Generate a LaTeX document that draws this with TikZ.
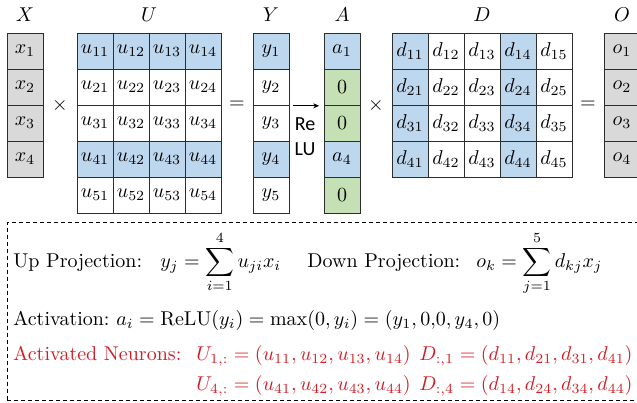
\documentclass[tikz,border=0pt]{standalone}
\usepackage{fontspec}
\newfontfamily\carlito{Carlito}
\usetikzlibrary{arrows.meta}
\definecolor{cblue}{RGB}{189,215,238}
\definecolor{cgreen}{RGB}{197,224,180}
\definecolor{cgray}{RGB}{217,217,217}
\definecolor{cred}{RGB}{208,28,36}
\definecolor{cline}{RGB}{45,45,45}
\begin{document}
\begin{tikzpicture}[x=1pt,y=-1pt,
  big/.style={scale=2, font=\fontsize{10}{12}\selectfont, inner sep=0pt},
  cell/.style={big, draw=cline, line width=0.8pt, minimum width=18pt, minimum height=18pt, font=\fontsize{10.2}{12}\selectfont},
  txt/.style={big, anchor=base west},
  frame/.style={draw=black, dash pattern=on 4pt off 3pt, line width=0.9pt, inner sep=0pt}]
\useasboundingbox (0,0) rectangle (637,402);
% column X
\foreach \r in {1,...,4} \node[cell, fill=cgray] (x\r) at (25,15+36*\r) {$x_{\r}$};
% matrix U
\foreach \r/\f in {1/cblue,2/white,3/white,4/cblue,5/white}
  \foreach \c in {1,...,4}
    \node[cell, fill=\f] (u\r\c) at (59+36*\c,15+36*\r) {$u_{\r\c}$};
% column Y
\foreach \r/\f in {1/cblue,2/white,3/white,4/cblue,5/white}
  \node[cell, fill=\f] (y\r) at (271,15+36*\r) {$y_{\r}$};
% column A
\foreach \r/\f/\t in {1/cblue/a_1,2/cgreen/0,3/cgreen/0,4/cblue/a_4,5/cgreen/0}
  \node[cell, fill=\f] (a\r) at (342,15+36*\r) {$\t$};
% matrix D
\foreach \c/\f in {1/cblue,2/white,3/white,4/cblue,5/white}
  \foreach \r in {1,...,4}
    \node[cell, fill=\f] (d\r\c) at (374+36*\c,15+36*\r) {$d_{\r\c}$};
% column O
\foreach \r in {1,...,4} \node[cell, fill=cgray] (o\r) at (622,15+36*\r) {$o_{\r}$};
% headers
\node[big] (hX) at (25,15) {$X$};
\node[big] (hU) at (149,15) {$U$};
\node[big] (hY) at (271,15) {$Y$};
\node[big] (hA) at (342,15) {$A$};
\node[big] (hD) at (482,15) {$D$};
\node[big] (hO) at (622,15) {$O$};
% operators
\node[big] (m1) at (60,105) {$\times$};
\node[big] (e1) at (237,105) {$=$};
\node[big] (m2) at (376,105) {$\times$};
\node[big] (e2) at (588,105) {$=$};
% ReLU arrow
\draw[-{Stealth[length=6pt,width=5pt]}, line width=0.8pt] ([xshift=3pt]y2.south east) -- ([xshift=-4pt]a2.south west);
\node[font=\carlito\fontsize{20}{25}\selectfont, align=center, inner sep=0pt] (relu) at (305,137) {Re\\LU};
% formula box
\node[frame, minimum width=643pt, minimum height=178.5pt] (box) at (328.5,311.25) {};
\node[txt] (up) at (13,267) {Up Projection:};
\node[txt] (upm) at (160,267) {$\displaystyle y_j = \sum_{i=1}^{4} u_{ji}x_i$};
\node[txt] (down) at (307,267) {Down Projection:};
\node[txt] (downm) at (476,267) {$\displaystyle o_k = \sum_{j=1}^{5} d_{kj}x_j$};
\node[txt] (act) at (13,325) {Activation:};
\node[txt] (actm) at (116,325) {$a_i = \mathrm{ReLU}(y_i) = \max(0, y_i) = (y_1, 0{,}0, y_4, 0)$};
\node[txt, text=cred] (neu) at (13,360) {Activated Neurons:};
\node[txt, text=cred] (nu1) at (196,360) {$U_{1,:} = (u_{11}, u_{12}, u_{13}, u_{14})$};
\node[txt, text=cred] (nd1) at (419,360) {$D_{:,1} = (d_{11}, d_{21}, d_{31}, d_{41})$};
\node[txt, text=cred] (nu4) at (196,390) {$U_{4,:} = (u_{41}, u_{42}, u_{43}, u_{44})$};
\node[txt, text=cred] (nd4) at (419,390) {$D_{:,4} = (d_{14}, d_{24}, d_{34}, d_{44})$};
\end{tikzpicture}
\end{document}
